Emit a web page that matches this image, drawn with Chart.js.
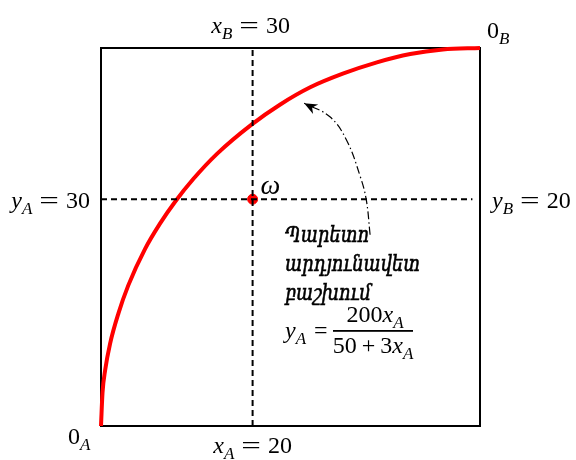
<!DOCTYPE html>
<html lang="hy">
<head>
    <meta charset="UTF-8">
    <title>Edgeworth box</title>
    <script src="https://cdn.jsdelivr.net/npm/chart.js"></script>
    <style>
        body { margin: 0; background: #fff; }
        #box { width: 576px; height: 460px; }
    </style>
</head>
<body>
    <div id="box">
        <canvas id="myChart"></canvas>
    </div>
    <script>
        const curveX = [0, 0.2, 0.55, 1.2, 2.3, 3.6, 5.8, 7.8, 9.8, 12.2, 15.3, 19.9, 23.6, 27.6, 31.9, 36.4, 40.8, 45.1, 50];
        const curveY = [0, 4.4, 7.4, 10.9, 14.9, 18.6, 23.4, 26.8, 29.7, 32.7, 36.0, 39.9, 42.5, 44.8, 46.6, 48.1, 49.2, 49.8, 50];

        // Initial endowment omega
        const omegaX = [20];
        const omegaY = [30];

        // Box size (total goods)
        const boxX = 50;
        const boxY = 50;

        // Guide lines through omega
        const vLineX = [20, 20];
        const vLineY = [0, 50];
        const hLineX = [0, 49];
        const hLineY = [30, 30];

        // Pointer from the caption to the curve
        const arrowX = [35.5, 35.0, 34.2, 32.4, 30.2, 26.8];
        const arrowY = [25.3, 29.9, 33.0, 37.8, 40.9, 42.7];

        const caption = ['Պարետո', 'արդյունավետ', 'բաշխում'];

        const toPoints = (xs, ys) => xs.map((x, i) => ({ x: x, y: ys[i] }));

        const SERIF = "'Liberation Serif', 'DejaVu Serif', serif";

        // draws things like x_B = 30
        // kinds: i = italic, r = roman, s = italic subscript, e = wide equals sign, g = gap in px
        function mathRun(ctx, parts, x, y, size, align) {
            const fontOf = kind => {
                if (kind === 's') return 'italic ' + Math.round(size * 0.72) + 'px ' + SERIF;
                if (kind === 'i') return 'italic ' + size + 'px ' + SERIF;
                return size + 'px ' + SERIF;
            };
            const widthOf = p => {
                if (p[1] === 'g') return p[0];
                ctx.font = fontOf(p[1]);
                const w = ctx.measureText(p[0]).width;
                return p[1] === 'e' ? w * 1.45 : w;
            };
            let total = 0;
            parts.forEach(p => { total += widthOf(p); });
            let cx = x;
            if (align === 'center') cx = x - total / 2;
            if (align === 'right') cx = x - total;
            ctx.textAlign = 'left';
            ctx.textBaseline = 'alphabetic';
            parts.forEach(p => {
                const w = widthOf(p);
                if (p[1] === 'e') {
                    ctx.font = fontOf('r');
                    ctx.save();
                    ctx.translate(cx, y);
                    ctx.scale(1.45, 1);
                    ctx.fillText(p[0], 0, 0);
                    ctx.restore();
                } else if (p[1] !== 'g') {
                    ctx.font = fontOf(p[1]);
                    const dy = p[1] === 's' ? size * 0.25 : 0;
                    ctx.fillText(p[0], cx, y + dy);
                }
                cx += w;
            });
            return total;
        }

        const label = (v, sub, num) => [[v, 'i'], [sub, 's'], [7, 'g'], ['=', 'e'], [7, 'g'], [num, 'r']];

        const boxPlugin = {
            id: 'boxPlugin',
            beforeDatasetsDraw(chart) {
                const { ctx, chartArea: a } = chart;
                ctx.save();
                ctx.strokeStyle = '#000';
                ctx.lineWidth = 2;
                ctx.strokeRect(a.left, a.top, a.right - a.left, a.bottom - a.top);
                ctx.restore();
            },
            afterDatasetsDraw(chart) {
                const { ctx, chartArea: a } = chart;
                const xs = chart.scales.x, ys = chart.scales.y;
                ctx.save();
                ctx.fillStyle = '#000';

                // arrow head at the end of the pointer
                const pts = chart.getDatasetMeta(4).data;
                const p1 = pts[pts.length - 2], p2 = pts[pts.length - 1];
                const ang = Math.atan2(p2.y - p1.y, p2.x - p1.x);
                ctx.save();
                ctx.translate(p2.x, p2.y);
                ctx.rotate(ang);
                ctx.beginPath();
                ctx.moveTo(0, 0);
                ctx.lineTo(-13, -5.5);
                ctx.lineTo(-9, 0);
                ctx.lineTo(-13, 5.5);
                ctx.closePath();
                ctx.fill();
                ctx.restore();

                const px = xs.getPixelForValue(omegaX[0]);
                const py = ys.getPixelForValue(omegaY[0]);

                mathRun(ctx, label('x', 'B', '30'), px - 2, a.top - 15, 24, 'center');
                mathRun(ctx, label('x', 'A', '20'), px, a.bottom + 27, 24, 'center');
                mathRun(ctx, label('y', 'A', '30'), a.left - 11, py + 9, 24, 'right');
                mathRun(ctx, label('y', 'B', '20'), a.right + 12, py + 9, 24, 'left');
                mathRun(ctx, [['0', 'r'], ['A', 's']], a.left - 33, a.bottom + 18, 24, 'left');
                mathRun(ctx, [['0', 'r'], ['B', 's']], a.right + 7, a.top - 10, 24, 'left');

                // omega label
                ctx.font = 'italic 28px ' + SERIF;
                ctx.fillText('ω', px + 8, py - 5);

                // caption, slightly taller and heavier than the plain italic
                ctx.font = 'italic 18px "DejaVu Serif", serif';
                ctx.strokeStyle = '#000';
                ctx.lineWidth = 0.5;
                caption.forEach((t, i) => {
                    ctx.save();
                    ctx.translate(285, 242 + i * 29);
                    ctx.scale(1, 1.22);
                    ctx.fillText(t, 0, 0);
                    ctx.strokeText(t, 0, 0);
                    ctx.restore();
                });

                // y_A = 200x_A / (50 + 3x_A)
                mathRun(ctx, [['y', 'i'], ['A', 's'], [8, 'g'], ['=', 'r']], 285, 338, 24, 'left');
                const barL = 333, barR = 413;
                const mid = (barL + barR) / 2;
                ctx.fillRect(barL, 330, barR - barL, 1.8);
                mathRun(ctx, [['200', 'r'], ['x', 'i'], ['A', 's']], mid + 2, 322, 24, 'center');
                mathRun(ctx, [['50', 'r'], [5, 'g'], ['+', 'r'], [5, 'g'], ['3', 'r'], ['x', 'i'], ['A', 's']], mid, 353, 24, 'center');
                ctx.restore();
            }
        };

        const ctx = document.getElementById('myChart').getContext('2d');
        const myChart = new Chart(ctx, {
            type: 'scatter',
            data: {
                datasets: [
                    {
                        data: toPoints(vLineX, vLineY),
                        showLine: true,
                        borderColor: '#000',
                        borderWidth: 2,
                        borderDash: [6, 4],
                        pointRadius: 0,
                        clip: false,
                    },
                    {
                        data: toPoints(hLineX, hLineY),
                        showLine: true,
                        borderColor: '#000',
                        borderWidth: 2,
                        borderDash: [6, 4],
                        pointRadius: 0,
                        clip: false,
                    },
                    {
                        data: toPoints(curveX, curveY),
                        showLine: true,
                        borderColor: '#ff0000',
                        borderWidth: 4,
                        cubicInterpolationMode: 'monotone',
                        pointRadius: 0,
                        clip: false,
                    },
                    {
                        data: toPoints(omegaX, omegaY),
                        backgroundColor: '#ff0000',
                        borderColor: '#ff0000',
                        pointRadius: 5,
                    },
                    {
                        data: toPoints(arrowX, arrowY),
                        showLine: true,
                        borderColor: '#000',
                        borderWidth: 1.2,
                        borderDash: [8, 3, 1.5, 3],
                        tension: 0.4,
                        pointRadius: 0,
                        clip: false,
                    },
                ],
            },
            options: {
                responsive: true,
                maintainAspectRatio: false,
                animation: false,
                layout: { padding: { left: 101, right: 96, top: 48, bottom: 34 } },
                plugins: {
                    legend: { display: false },
                    tooltip: { enabled: false },
                },
                scales: {
                    x: { type: 'linear', min: 0, max: boxX, display: false },
                    y: { type: 'linear', min: 0, max: boxY, display: false },
                },
            },
            plugins: [boxPlugin],
        });
    </script>
</body>
</html>
